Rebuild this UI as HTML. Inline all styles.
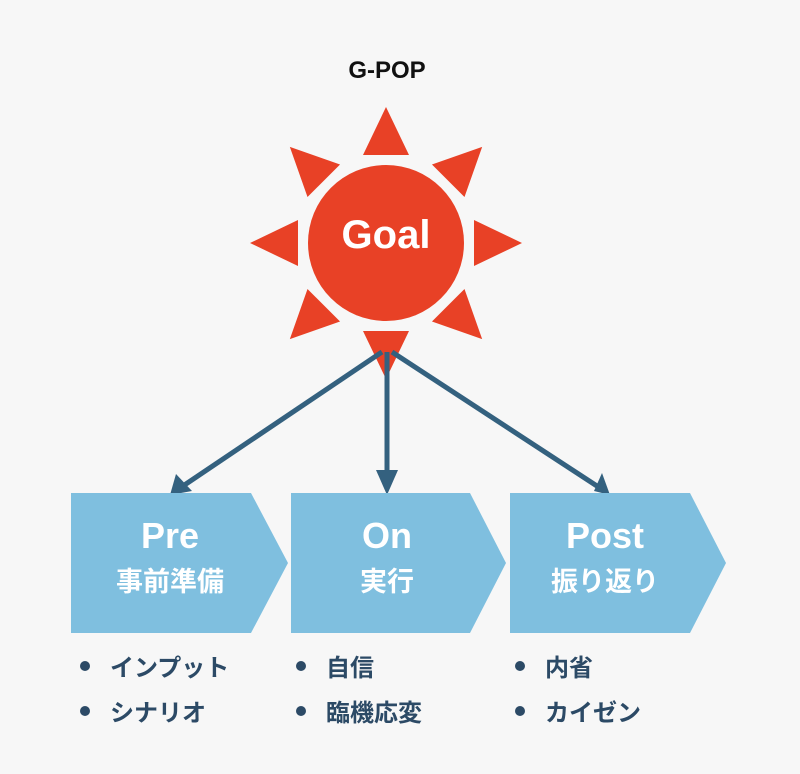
<!DOCTYPE html>
<html><head><meta charset="utf-8"><style>
body{margin:0;background:#f7f7f7;width:800px;height:769px;overflow:hidden}
svg text{font-family:"Liberation Sans","Noto Sans CJK JP",sans-serif;font-weight:bold}
</style></head><body>
<svg width="800" height="769" viewBox="0 0 800 769" xmlns="http://www.w3.org/2000/svg">
<text x="387" y="78" font-size="24" text-anchor="middle" fill="#111">G-POP</text>
<g fill="#e84126" transform="translate(386,243)">
<g id="ray"><polygon points="-23,-88 23,-88 0,-136"/></g>
<use href="#ray" transform="rotate(45)"/><use href="#ray" transform="rotate(90)"/><use href="#ray" transform="rotate(135)"/>
<use href="#ray" transform="rotate(180)"/><use href="#ray" transform="rotate(225)"/><use href="#ray" transform="rotate(270)"/><use href="#ray" transform="rotate(315)"/>
<circle r="78"/>
</g>
<text x="386" y="248" font-size="40" text-anchor="middle" fill="#fff">Goal</text>
<g stroke="#34617f" stroke-width="5" fill="none">
<line x1="382" y1="352" x2="180" y2="488"/>
<line x1="387" y1="352" x2="387" y2="488"/>
<line x1="392" y1="352" x2="600" y2="488"/>
</g>
<g fill="#34617f">
<polygon points="170,495 176,474 192,491"/>
<polygon points="387,495 376,470 398,470"/>
<polygon points="610,495 594,491 602,473"/>
</g>
<g fill="#7fbfdf">
<polygon points="71,493 251,493 288,563 251,633 71,633"/>
<polygon points="291,493 470,493 506,563 470,633 291,633"/>
<polygon points="510,493 690,493 726,563 690,633 510,633"/>
</g>
<g fill="#fff" text-anchor="middle">
<text x="170" y="548" font-size="36">Pre</text>
<text x="170" y="591" font-size="27">事前準備</text>
<text x="387" y="548" font-size="36">On</text>
<text x="387" y="591" font-size="27">実行</text>
<text x="605" y="548" font-size="36">Post</text>
<text x="605" y="591" font-size="27">振り返り</text>
</g>
<g fill="#2c4a66" font-size="24">
<circle cx="85" cy="666" r="5"/><circle cx="85" cy="711" r="5"/>
<circle cx="301" cy="666" r="5"/><circle cx="301" cy="711" r="5"/>
<circle cx="520" cy="666" r="5"/><circle cx="520" cy="711" r="5"/>
<text x="110" y="676">インプット</text>
<text x="110" y="721">シナリオ</text>
<text x="326" y="676">自信</text>
<text x="326" y="721">臨機応変</text>
<text x="545" y="676">内省</text>
<text x="545" y="721">カイゼン</text>
</g>
</svg>
</body></html>
